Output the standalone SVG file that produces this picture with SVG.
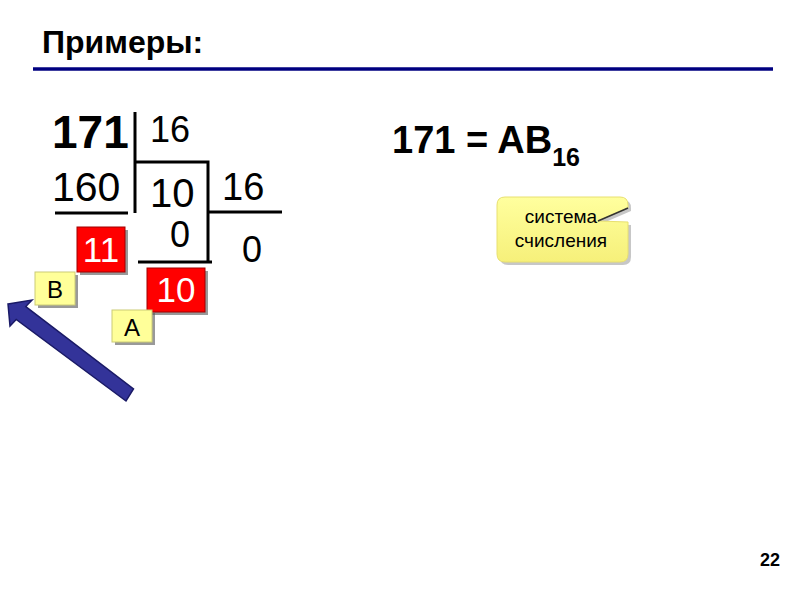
<svg xmlns="http://www.w3.org/2000/svg" width="800" height="600" viewBox="0 0 800 600">
<defs>
<style>
.t{font-family:"Liberation Sans",Arial,sans-serif;fill:#000}
.b{font-weight:bold}
.ln{stroke:#000;stroke-width:3;fill:none}
.red{fill:#ff0000;stroke:#a00000;stroke-width:1}
.yel{fill:#ffff99;stroke:#cccc77;stroke-width:1}
.sh{fill:#555;opacity:0.6}
.wt{font-family:"Liberation Sans",Arial,sans-serif;fill:#fff;font-size:35px}
</style>
<linearGradient id="cg" x1="0" y1="0" x2="0" y2="1">
<stop offset="0" stop-color="#ffff9e"/>
<stop offset="1" stop-color="#f6f07a"/>
</linearGradient>
</defs>
<rect width="800" height="600" fill="#fff"/>
<g id="title">
<text class="t b" x="42" y="53" font-size="32">Примеры:</text>
<line x1="33" y1="69" x2="773" y2="69" stroke="#000080" stroke-width="3.5"/>
</g>
<g id="division">
<text class="t b" x="52" y="148" font-size="46">171</text>
<text class="t" x="150" y="142" font-size="36">16</text>
<text class="t" x="52" y="201" font-size="41">160</text>
<text class="t" x="150" y="207" font-size="40">10</text>
<text class="t" x="222" y="200" font-size="38">16</text>
<text class="t" x="170" y="247" font-size="36">0</text>
<text class="t" x="242" y="262" font-size="36">0</text>
</g>
<g id="connectors">
<polyline class="ln" points="135,112 135,213"/>
<polyline class="ln" points="135,162 208,162 208,263"/>
<line class="ln" x1="55" y1="213" x2="128" y2="213"/>
<line class="ln" x1="208" y1="212" x2="282" y2="212"/>
<line class="ln" x1="138" y1="262" x2="212" y2="262"/>
<polygon points="8,304 32,300 25.8,306.6 133.5,389 126,401 16.2,319.4 10,326" fill="#333399" stroke="#1a1a66" stroke-width="1.5" stroke-linejoin="miter"/>
</g>
<g id="box11">
<rect class="sh" x="80" y="230" width="48" height="45"/>
<rect class="red" x="77" y="227" width="48" height="45"/>
<text class="wt" x="101" y="262" text-anchor="middle">11</text>
</g>
<g id="box10">
<rect class="sh" x="150" y="271" width="58" height="44"/>
<rect class="red" x="147" y="268" width="58" height="44"/>
<text class="wt" x="176" y="302" text-anchor="middle">10</text>
</g>
<g id="boxB">
<rect class="sh" x="38" y="275" width="40" height="33"/>
<rect class="yel" x="35" y="272" width="40" height="33"/>
<text class="t" x="55" y="298" font-size="24" text-anchor="middle">B</text>
</g>
<g id="boxA">
<rect class="sh" x="115" y="313" width="40" height="32"/>
<rect class="yel" x="112" y="310" width="40" height="32"/>
<text class="t" x="132" y="336" font-size="24" text-anchor="middle">A</text>
</g>
<g id="result">
<text class="t b" x="392" y="153" font-size="38">171 = AB<tspan font-size="25" dy="13">16</tspan></text>
</g>
<g id="callout">
<path d="M508,200 H623 Q631,200 631,208 V211 L601,224 L631,225 V257 Q631,265 623,265 H508 Q500,265 500,257 V208 Q500,200 508,200 Z" fill="#999" opacity="0.55"/>
<path d="M505,197 H620 Q628,197 628,205 V208 L598,221 L628,222 V254 Q628,262 620,262 H505 Q497,262 497,254 V205 Q497,197 505,197 Z" fill="url(#cg)" stroke="#e8e070" stroke-width="1"/>
<line x1="598" y1="221" x2="628" y2="208" stroke="#333" stroke-width="1.5"/>
<text class="t" x="561" y="223" font-size="19" text-anchor="middle" fill="#333">система</text>
<text class="t" x="561" y="247" font-size="19" text-anchor="middle" fill="#333">счисления</text>
</g>
<g id="page">
<text class="t b" x="780" y="566" font-size="18" text-anchor="end">22</text>
</g>
</svg>
